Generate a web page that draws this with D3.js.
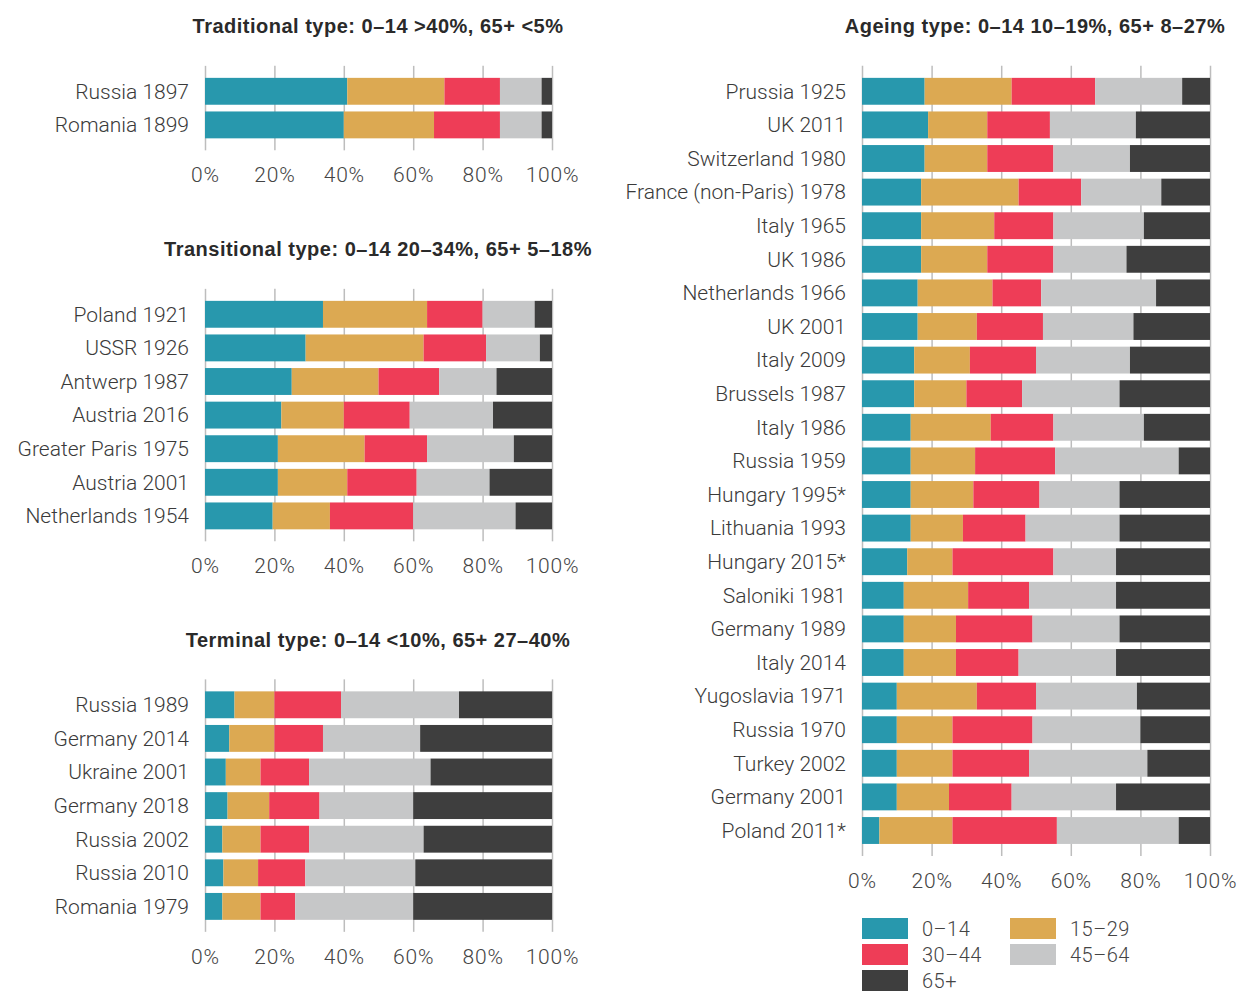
<!DOCTYPE html>
<html>
<head>
<meta charset="utf-8">
<script src="https://cdn.jsdelivr.net/npm/d3@7"></script>
<style>
  body { margin: 0; background: #fff; }
  text { font-family: Roboto, "Noto Sans", sans-serif; }
</style>
</head>
<body>
<div id="chart"></div>
<script>
// age groups and colours
const ageGroups = ["0–14", "15–29", "30–44", "45–64", "65+"];
const ageColors = ["#2898ad", "#dca952", "#ee3d57", "#c6c7c8", "#3e3e3e"];
const tickValues = [0, 20, 40, 60, 80, 100];

// Traditional type
const tradLabels = ["Russia 1897", "Romania 1899"];
const tradValues = [
  [41, 28, 16, 12, 3],
  [40, 26, 19, 12, 3]
];

// Transitional type
const transLabels = ["Poland 1921", "USSR 1926", "Antwerp 1987", "Austria 2016",
  "Greater Paris 1975", "Austria 2001", "Netherlands 1954"];
const transValues = [
  [34, 30, 16, 15, 5],
  [29, 34, 18, 15.5, 3.5],
  [25, 25, 17.5, 16.5, 16],
  [22, 18, 19, 24, 17],
  [21, 25, 18, 25, 11],
  [21, 20, 20, 21, 18],
  [19.5, 16.5, 24, 29.5, 10.5]
];

// Terminal type
const termLabels = ["Russia 1989", "Germany 2014", "Ukraine 2001", "Germany 2018",
  "Russia 2002", "Russia 2010", "Romania 1979"];
const termValues = [
  [8.5, 11.5, 19.2, 34, 26.8],
  [7, 13, 14, 28, 38],
  [6, 10, 14, 35, 35],
  [6.5, 12, 14.5, 27, 40],
  [5, 11, 14, 33, 37],
  [5.3, 10, 13.6, 31.7, 39.4],
  [5, 11, 10, 34, 40]
];

// Ageing type
const ageLabels = ["Prussia 1925", "UK 2011", "Switzerland 1980", "France (non-Paris) 1978",
  "Italy 1965", "UK 1986", "Netherlands 1966", "UK 2001", "Italy 2009", "Brussels 1987",
  "Italy 1986", "Russia 1959", "Hungary 1995*", "Lithuania 1993", "Hungary 2015*",
  "Saloniki 1981", "Germany 1989", "Italy 2014", "Yugoslavia 1971", "Russia 1970",
  "Turkey 2002", "Germany 2001", "Poland 2011*"];
const ageValues = [
  [18, 25, 24, 25, 8],
  [19, 17, 18, 24.7, 21.3],
  [18, 18, 19, 22, 23],
  [17, 28, 18, 23, 14],
  [17, 21, 17, 26, 19],
  [17, 19, 19, 21, 24],
  [16, 21.5, 14, 33, 15.5],
  [16, 17, 19, 26, 22],
  [15, 16, 19, 27, 23],
  [15, 15, 16, 28, 26],
  [14, 23, 18, 26, 19],
  [14, 18.5, 23, 35.5, 9],
  [14, 18, 19, 23, 26],
  [14, 15, 18, 27, 26],
  [13, 13, 29, 18, 27],
  [12, 18.5, 17.5, 25, 27],
  [12, 15, 22, 25, 26],
  [12, 15, 18, 28, 27],
  [10, 23, 17, 29, 21],
  [10, 16, 23, 31, 20],
  [10, 16, 22, 34, 18],
  [10, 15, 18, 30, 27],
  [5, 21, 30, 35, 9]
];

const width = 1237, height = 992;
const step = 33.6;

const svg = d3.select("#chart")
  .append("svg")
  .attr("width", width)
  .attr("height", height);

function drawPanel(title, labels, values, opt) {
  const x = d3.scaleLinear().domain([0, 100]).range([opt.x0, opt.x1]);
  const y = d3.scaleBand()
    .domain(labels)
    .range([opt.top, opt.top + labels.length * step])
    .paddingInner(0.2)
    .paddingOuter(0.1);

  const gridTop = y(labels[0]) - 12;
  const gridBottom = y(labels[labels.length - 1]) + y.bandwidth() + 12;

  const g = svg.append("g");

  // title
  g.append("text")
    .attr("x", opt.titleX)
    .attr("y", opt.titleY)
    .attr("text-anchor", "middle")
    .attr("font-weight", 700)
    .attr("font-size", 20)
    .attr("letter-spacing", 0.5)
    .attr("fill", "#2a2a2a")
    .style("font-family", "'Liberation Sans', Arial, sans-serif")
    .text(title);

  // gridlines + tick labels
  const axis = g.append("g")
    .attr("transform", `translate(0,${gridBottom})`)
    .call(d3.axisBottom(x)
      .tickValues(tickValues)
      .tickSize(-(gridBottom - gridTop))
      .tickPadding(17)
      .tickFormat(d => d + "%"));
  axis.select(".domain").remove();
  axis.selectAll("line").attr("stroke", "#bdbdbd").attr("stroke-width", 1.5);
  axis.selectAll("text")
    .attr("font-size", 21)
    .attr("font-weight", 300)
    .attr("letter-spacing", 0.8)
    .attr("fill", "#444")
    .style("font-family", "Roboto, sans-serif");

  // stacked bars
  const rows = values.map((v, i) => {
    let acc = 0;
    return v.map((d, j) => {
      const s = { label: labels[i], k: j, x0: acc, x1: acc + d };
      acc += d;
      return s;
    });
  });

  g.selectAll("g.row")
    .data(rows)
    .enter()
    .append("g")
      .attr("class", "row")
    .selectAll("rect")
    .data(d => d)
    .enter()
    .append("rect")
      .attr("x", d => x(d.x0))
      .attr("y", d => y(d.label))
      .attr("width", d => x(Math.min(d.x1, 100)) - x(d.x0))
      .attr("height", y.bandwidth())
      .attr("fill", d => ageColors[d.k]);

  // row labels
  g.selectAll("text.lab")
    .data(labels)
    .enter()
    .append("text")
      .attr("class", "lab")
      .attr("x", opt.x0 - 16)
      .attr("y", d => y(d) + y.bandwidth() / 2)
      .attr("dy", "0.35em")
      .attr("text-anchor", "end")
      .attr("font-size", 21)
      .attr("font-weight", 300)
      .attr("fill", "#3a3a3a")
      .text(d => d);
}

drawPanel("Traditional type: 0–14 >40%, 65+ <5%", tradLabels, tradValues,
  { x0: 205, x1: 552, top: 74.5, titleX: 378, titleY: 33 });
drawPanel("Transitional type: 0–14 20–34%, 65+ 5–18%", transLabels, transValues,
  { x0: 205, x1: 552, top: 297.5, titleX: 378, titleY: 256 });
drawPanel("Terminal type: 0–14 <10%, 65+ 27–40%", termLabels, termValues,
  { x0: 205, x1: 552, top: 688, titleX: 378, titleY: 647 });
drawPanel("Ageing type: 0–14 10–19%, 65+ 8–27%", ageLabels, ageValues,
  { x0: 862, x1: 1210, top: 74.5, titleX: 1035, titleY: 33 });

// legend
const legendPos = [[862, 918], [1010, 918], [862, 944], [1010, 944], [862, 970]];
const order = [0, 1, 2, 3, 4];
const leg = svg.append("g")
  .selectAll("g")
  .data(order)
  .enter()
  .append("g")
    .attr("transform", (d, i) => `translate(${legendPos[i][0]},${legendPos[i][1]})`);
leg.append("rect")
  .attr("width", 46)
  .attr("height", 21)
  .attr("fill", d => ageColors[d]);
leg.append("text")
  .attr("x", 60)
  .attr("y", 10.5)
  .attr("dy", "0.35em")
  .attr("font-size", 20)
  .attr("font-weight", 300)
  .attr("letter-spacing", 0.5)
  .attr("fill", "#444")
  .text(d => ageGroups[d]);
</script>
</body>
</html>
